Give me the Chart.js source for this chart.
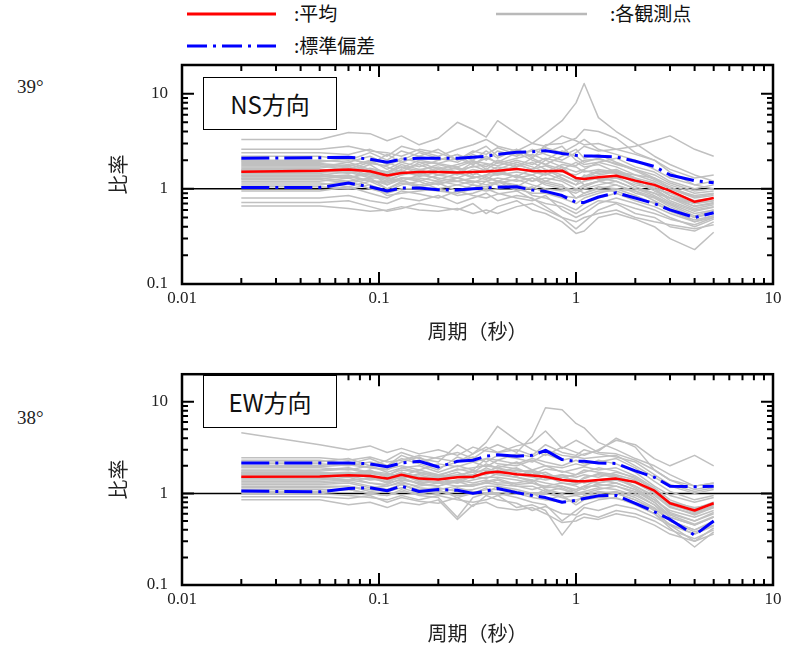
<!DOCTYPE html>
<html>
<head>
<meta charset="utf-8">
<script src="https://cdn.jsdelivr.net/npm/chart.js@4.4.0/dist/chart.umd.min.js"></script>
<style>
body { margin: 0; width: 792px; height: 648px; position: relative; background: #fff; overflow: hidden; font-family: "Noto Sans CJK JP", sans-serif; }
.wrap { position: absolute; left: 0; width: 792px; }
#wrapTop { top: 0; height: 350px; }
#wrapBottom { top: 350px; height: 298px; }
.box { position: absolute; left: 203px; width: 132px; height: 51px; border: 1.5px solid #000; background: #fff; font-size: 24px; line-height: 51px; text-align: center; color: #111; }
.lat { position: absolute; left: 17px; font-family: "Liberation Serif", "Times New Roman", "DejaVu Serif", serif; font-size: 19px; line-height: 19px; color: #222; }
.leg { position: absolute; font-size: 19px; line-height: 20px; color: #111; }
</style>
</head>
<body>
<svg width="792" height="60" style="position:absolute;left:0;top:0">
  <line x1="187" y1="14" x2="276" y2="14" stroke="#ff0000" stroke-width="3"/>
  <line x1="496" y1="14" x2="587" y2="14" stroke="rgb(185,185,185)" stroke-width="2.5"/>
  <line x1="187" y1="46" x2="276" y2="46" stroke="#0000ff" stroke-width="3" stroke-dasharray="20 6 3 6"/>
</svg>
<div class="leg" style="left:294px;top:3px">:平均</div>
<div class="leg" style="left:610px;top:3px">:各観測点</div>
<div class="leg" style="left:294px;top:35px">:標準偏差</div>

<div class="lat" style="top:77px">39°</div>
<div class="lat" style="top:408px">38°</div>

<div class="wrap" id="wrapTop"><canvas id="chartNS"></canvas></div>
<div class="wrap" id="wrapBottom"><canvas id="chartEW"></canvas></div>

<div class="box" style="top:77px">NS方向</div>
<div class="box" style="top:375px">EW方向</div>

<script>
// 周期（秒）
const periods = [0.02, 0.05, 0.07, 0.09, 0.11, 0.13, 0.16, 0.2, 0.25, 0.3, 0.35, 0.4, 0.5, 0.6, 0.7, 0.85, 1.0, 1.1, 1.3, 1.6, 2.0, 2.5, 3.0, 4.0, 5.0]
const xTicks = [0.01, 0.1, 1, 10]
const yTicks = [0.1, 1, 10]
const serif = '"Liberation Serif", "Times New Roman", "DejaVu Serif", serif'

// NS方向
const nsMean  = [1.51, 1.55, 1.60, 1.53, 1.38, 1.47, 1.50, 1.50, 1.48, 1.50, 1.52, 1.55, 1.62, 1.54, 1.53, 1.55, 1.30, 1.27, 1.32, 1.37, 1.22, 1.10, 0.95, 0.73, 0.80]
const nsUpper = [2.10, 2.12, 2.15, 2.05, 1.90, 2.05, 2.10, 2.10, 2.10, 2.15, 2.20, 2.30, 2.42, 2.45, 2.52, 2.35, 2.25, 2.22, 2.20, 2.16, 1.95, 1.72, 1.40, 1.22, 1.16]
const nsLower = [1.03, 1.03, 1.15, 1.05, 0.95, 1.02, 1.02, 0.98, 0.97, 1.00, 1.02, 1.04, 1.05, 0.97, 0.94, 0.85, 0.72, 0.72, 0.82, 0.91, 0.80, 0.70, 0.60, 0.50, 0.56]
const nsStations = [
    [3.3, 3.3, 3.9, 3.8, 3.2, 3.6, 2.9, 3.4, 5.0, 4.2, 3.5, 5.2, 3.8, 3.0, 2.8, 3.6, 3.2, 2.9, 3.0, 2.6, 2.3, 2.0, 1.6, 1.3, 1.4],
    [2.4, 2.4, 2.3, 2.6, 2.2, 2.8, 2.5, 2.2, 2.6, 2.9, 3.3, 2.8, 2.5, 3.0, 3.8, 5.2, 8.0, 12.8, 5.6, 4.0, 3.0, 2.2, 1.8, 1.4, 1.2],
    [2.0, 2.0, 1.9, 2.2, 1.8, 2.0, 2.4, 2.1, 1.9, 2.3, 2.0, 2.5, 2.2, 2.6, 2.3, 2.0, 2.4, 2.8, 2.5, 2.6, 2.8, 3.2, 3.6, 2.6, 2.2],
    [1.9, 1.9, 2.1, 1.8, 2.3, 1.9, 2.2, 2.6, 2.0, 2.4, 2.8, 2.2, 2.6, 2.1, 2.9, 3.0, 3.4, 4.2, 4.0, 3.4, 2.4, 2.0, 1.5, 1.1, 1.0],
    [1.8, 1.8, 1.7, 2.0, 1.6, 1.9, 1.7, 2.0, 2.3, 1.8, 2.1, 1.9, 2.4, 2.0, 1.8, 2.2, 2.6, 2.1, 2.3, 1.9, 1.6, 1.3, 1.1, 0.9, 0.95],
    [1.7, 1.7, 1.9, 1.6, 1.5, 1.8, 1.6, 1.7, 1.5, 1.9, 1.7, 2.0, 1.8, 1.6, 2.0, 1.7, 1.5, 1.6, 1.9, 1.7, 1.4, 1.2, 1.0, 0.85, 0.9],
    [1.6, 1.6, 1.5, 1.8, 1.4, 1.6, 1.8, 1.5, 1.7, 1.4, 1.6, 1.5, 1.7, 1.9, 1.6, 1.4, 1.2, 1.3, 1.5, 1.6, 1.3, 1.0, 0.9, 0.7, 0.75],
    [1.55, 1.55, 1.7, 1.5, 1.3, 1.5, 1.4, 1.6, 1.4, 1.6, 1.5, 1.7, 1.6, 1.5, 1.4, 1.6, 1.3, 1.1, 1.2, 1.4, 1.2, 1.1, 0.85, 0.65, 0.7],
    [1.5, 1.5, 1.6, 1.4, 1.2, 1.4, 1.6, 1.4, 1.5, 1.3, 1.4, 1.4, 1.5, 1.4, 1.6, 1.3, 1.1, 1.2, 1.3, 1.2, 1.0, 0.9, 0.8, 0.62, 0.68],
    [1.45, 1.45, 1.3, 1.5, 1.1, 1.3, 1.3, 1.2, 1.3, 1.5, 1.3, 1.2, 1.4, 1.2, 1.3, 1.2, 1.0, 1.1, 1.2, 1.3, 1.1, 1.0, 0.75, 0.6, 0.65],
    [1.4, 1.4, 1.5, 1.3, 1.3, 1.2, 1.4, 1.3, 1.2, 1.3, 1.4, 1.6, 1.3, 1.4, 1.2, 1.4, 1.2, 1.3, 1.4, 1.5, 1.2, 0.95, 0.8, 0.7, 0.8],
    [1.35, 1.35, 1.4, 1.2, 1.2, 1.3, 1.2, 1.4, 1.3, 1.2, 1.2, 1.3, 1.2, 1.3, 1.1, 1.0, 0.9, 1.0, 1.1, 1.2, 1.0, 0.85, 0.7, 0.55, 0.6],
    [1.3, 1.3, 1.2, 1.3, 1.0, 1.2, 1.1, 1.2, 1.1, 1.2, 1.1, 1.2, 1.1, 1.0, 1.2, 1.1, 0.8, 0.9, 1.0, 1.1, 0.9, 0.8, 0.65, 0.5, 0.55],
    [1.2, 1.2, 1.3, 1.1, 0.95, 1.1, 1.2, 1.0, 1.1, 1.0, 1.2, 1.1, 1.0, 0.9, 0.9, 0.8, 0.7, 0.8, 0.9, 1.0, 0.85, 0.7, 0.6, 0.45, 0.5],
    [1.1, 1.1, 1.2, 1.0, 0.9, 1.0, 1.0, 0.95, 0.9, 1.0, 0.95, 1.0, 1.1, 0.85, 0.8, 0.7, 0.6, 0.7, 0.8, 0.9, 0.75, 0.65, 0.55, 0.45, 0.52],
    [1.05, 1.05, 1.0, 1.1, 0.85, 0.9, 0.95, 1.0, 0.85, 0.9, 1.0, 0.9, 0.8, 0.75, 0.85, 0.6, 0.5, 0.55, 0.7, 0.8, 0.7, 0.6, 0.5, 0.4, 0.48],
    [0.8, 0.8, 0.85, 0.75, 0.7, 0.8, 0.75, 0.85, 0.7, 0.8, 0.9, 0.75, 0.85, 0.8, 0.65, 0.5, 0.38, 0.45, 0.6, 0.7, 0.55, 0.5, 0.4, 0.36, 0.45],
    [0.72, 0.72, 0.75, 0.65, 0.58, 0.62, 0.7, 0.65, 0.6, 0.7, 0.55, 0.65, 0.75, 0.6, 0.55, 0.45, 0.34, 0.36, 0.5, 0.55, 0.48, 0.4, 0.3, 0.23, 0.35],
    [0.66, 0.66, 0.62, 0.58, 0.6, 0.65, 0.6, 0.58, 0.62, 0.55, 0.6, 0.55, 0.65, 0.7, 0.6, 0.5, 0.45, 0.5, 0.55, 0.6, 0.5, 0.45, 0.42, 0.38, 0.42],
    [2.2, 2.2, 2.0, 2.4, 2.0, 2.5, 2.2, 2.0, 2.3, 2.0, 2.5, 2.1, 2.6, 2.2, 2.4, 2.8, 2.0, 1.8, 1.9, 2.1, 1.7, 1.5, 1.2, 1.0, 1.1],
    [1.25, 1.25, 1.15, 1.25, 1.1, 1.25, 1.05, 1.15, 1.2, 1.1, 1.05, 1.15, 1.25, 1.1, 1.0, 0.95, 1.0, 0.9, 1.05, 1.0, 0.95, 0.75, 0.62, 0.5, 0.58],
    [1.65, 1.65, 1.8, 1.55, 1.45, 1.7, 1.55, 1.8, 1.6, 1.7, 1.8, 1.6, 1.9, 1.7, 1.5, 1.8, 1.7, 1.5, 1.6, 1.5, 1.4, 1.3, 1.0, 0.8, 0.85],
    [1.75, 1.75, 1.6, 1.9, 1.7, 1.5, 1.9, 1.6, 1.8, 2.0, 1.6, 1.9, 1.7, 2.1, 1.8, 1.6, 1.9, 1.7, 1.8, 1.5, 1.3, 1.15, 0.95, 0.75, 0.8],
    [1.58, 1.58, 1.45, 1.65, 1.5, 1.7, 1.45, 1.65, 1.45, 1.75, 1.55, 1.4, 1.8, 1.6, 1.75, 1.5, 1.4, 1.55, 1.45, 1.55, 1.25, 1.05, 0.85, 0.7, 0.75],
    [1.48, 1.48, 1.55, 1.35, 1.4, 1.55, 1.35, 1.5, 1.65, 1.4, 1.6, 1.45, 1.35, 1.6, 1.4, 1.7, 1.25, 1.35, 1.55, 1.45, 1.15, 1.0, 0.8, 0.66, 0.72],
    [1.38, 1.38, 1.3, 1.45, 1.25, 1.4, 1.5, 1.25, 1.45, 1.35, 1.25, 1.5, 1.35, 1.2, 1.45, 1.25, 1.1, 1.4, 1.25, 1.35, 1.05, 0.9, 0.72, 0.58, 0.64],
    [1.28, 1.28, 1.35, 1.2, 1.15, 1.3, 1.25, 1.1, 1.3, 1.15, 1.35, 1.2, 1.05, 1.3, 1.15, 1.05, 0.95, 1.05, 1.2, 1.1, 0.95, 0.82, 0.68, 0.52, 0.6],
    [1.15, 1.15, 1.05, 1.2, 1.0, 1.15, 1.05, 1.15, 0.95, 1.1, 1.0, 1.2, 0.95, 1.05, 0.9, 0.85, 0.8, 0.85, 0.95, 0.95, 0.8, 0.72, 0.58, 0.47, 0.52],
    [1.95, 1.95, 2.05, 1.85, 1.75, 2.1, 1.9, 1.85, 2.1, 1.8, 2.2, 1.85, 2.1, 2.3, 2.0, 2.5, 2.2, 1.9, 2.1, 1.8, 1.6, 1.4, 1.15, 0.95, 1.0],
    [2.6, 2.6, 2.8, 2.5, 2.4, 2.2, 2.6, 2.4, 2.0, 2.5, 2.3, 2.7, 2.3, 2.5, 2.7, 2.4, 2.9, 3.3, 2.6, 2.3, 2.0, 1.6, 1.3, 1.1, 1.2],
    [0.95, 0.95, 1.05, 0.9, 0.8, 0.95, 0.88, 0.8, 0.95, 0.85, 0.8, 0.88, 0.95, 0.78, 0.7, 0.65, 0.55, 0.62, 0.75, 0.72, 0.62, 0.55, 0.48, 0.42, 0.5],
    [1.85, 1.85, 1.75, 1.95, 1.9, 1.65, 2.0, 1.85, 1.7, 1.95, 1.85, 1.75, 2.0, 1.8, 2.1, 1.9, 1.75, 2.0, 2.05, 1.85, 1.55, 1.25, 1.05, 0.82, 0.88]
]

// EW方向
const ewMean  = [1.52, 1.53, 1.58, 1.55, 1.45, 1.60, 1.45, 1.42, 1.50, 1.52, 1.68, 1.72, 1.62, 1.57, 1.52, 1.40, 1.36, 1.36, 1.40, 1.45, 1.33, 1.07, 0.78, 0.65, 0.78]
const ewUpper = [2.15, 2.15, 2.15, 2.10, 1.95, 2.15, 2.24, 1.94, 2.24, 2.30, 2.55, 2.64, 2.55, 2.60, 2.95, 2.34, 2.24, 2.24, 2.15, 2.12, 1.76, 1.50, 1.20, 1.18, 1.20]
const ewLower = [1.06, 1.04, 1.13, 1.15, 1.07, 1.20, 1.05, 1.10, 1.08, 1.00, 1.06, 1.13, 1.02, 0.95, 0.90, 0.80, 0.84, 0.88, 0.94, 0.95, 0.78, 0.63, 0.52, 0.35, 0.50]
const ewStations = [
    [4.6, 3.4, 3.0, 3.3, 2.8, 3.1, 2.7, 3.0, 2.6, 3.2, 2.9, 2.8, 3.3, 3.6, 4.8, 3.1, 3.8, 3.4, 2.8, 2.7, 2.3, 1.8, 1.4, 1.2, 1.3],
    [2.3, 2.3, 2.1, 2.4, 2.0, 2.6, 2.2, 2.5, 2.8, 2.4, 3.0, 3.4, 2.8, 4.2, 8.6, 8.2, 5.8, 5.2, 3.6, 3.0, 2.4, 2.0, 1.6, 1.2, 1.3],
    [2.2, 2.2, 2.4, 2.0, 2.3, 2.8, 2.4, 2.2, 3.4, 2.7, 3.6, 5.4, 3.8, 3.0, 2.6, 3.2, 2.8, 2.6, 3.0, 3.8, 3.4, 2.4, 2.0, 2.6, 2.0],
    [2.0, 2.0, 2.2, 1.9, 1.8, 2.2, 2.5, 1.9, 2.2, 2.5, 2.2, 2.6, 2.4, 2.2, 2.7, 2.3, 2.5, 2.7, 2.9, 4.0, 3.2, 1.8, 1.4, 1.1, 1.2],
    [1.9, 1.9, 1.8, 2.0, 1.7, 1.9, 2.0, 1.7, 2.0, 1.8, 2.4, 2.1, 2.0, 2.3, 2.0, 1.9, 2.1, 2.0, 2.3, 2.1, 1.7, 1.2, 0.95, 0.8, 0.9],
    [1.8, 1.8, 1.9, 1.7, 1.6, 1.8, 1.7, 1.6, 1.8, 1.9, 2.0, 1.9, 1.7, 1.8, 1.6, 1.5, 1.6, 1.8, 1.7, 1.6, 1.4, 1.0, 0.8, 0.7, 0.75],
    [1.7, 1.7, 1.6, 1.8, 1.5, 1.7, 1.5, 1.5, 1.6, 1.7, 1.8, 1.7, 1.9, 1.6, 1.7, 1.4, 1.3, 1.5, 1.6, 1.5, 1.3, 1.05, 0.75, 0.62, 0.72],
    [1.65, 1.65, 1.7, 1.6, 1.4, 1.5, 1.6, 1.4, 1.5, 1.6, 1.6, 1.8, 1.6, 1.5, 1.4, 1.5, 1.4, 1.3, 1.4, 1.5, 1.2, 0.95, 0.7, 0.6, 0.7],
    [1.6, 1.6, 1.5, 1.6, 1.3, 1.6, 1.4, 1.3, 1.4, 1.5, 1.7, 1.6, 1.5, 1.4, 1.3, 1.2, 1.1, 1.2, 1.4, 1.3, 1.1, 0.85, 0.65, 0.55, 0.65],
    [1.5, 1.5, 1.6, 1.5, 1.3, 1.4, 1.3, 1.35, 1.3, 1.4, 1.5, 1.5, 1.4, 1.3, 1.2, 1.3, 1.2, 1.1, 1.3, 1.4, 1.2, 0.9, 0.6, 0.5, 0.6],
    [1.45, 1.45, 1.4, 1.45, 1.35, 1.5, 1.25, 1.2, 1.4, 1.3, 1.4, 1.3, 1.3, 1.4, 1.1, 1.0, 1.1, 1.2, 1.2, 1.3, 1.1, 0.8, 0.55, 0.45, 0.55],
    [1.4, 1.4, 1.5, 1.3, 1.2, 1.3, 1.2, 1.3, 1.2, 1.2, 1.3, 1.4, 1.2, 1.1, 1.2, 1.1, 1.0, 1.0, 1.1, 1.2, 1.0, 0.75, 0.5, 0.4, 0.5],
    [1.3, 1.3, 1.35, 1.2, 1.1, 1.25, 1.1, 1.15, 1.05, 1.1, 1.2, 1.2, 1.1, 1.0, 1.0, 0.9, 0.95, 0.9, 1.0, 1.05, 0.9, 0.7, 0.5, 0.38, 0.45],
    [1.2, 1.2, 1.2, 1.1, 1.05, 1.15, 1.0, 1.05, 0.95, 1.0, 1.1, 1.1, 1.0, 0.9, 0.85, 0.8, 0.85, 0.9, 0.95, 1.0, 0.85, 0.65, 0.45, 0.3, 0.42],
    [1.1, 1.1, 1.1, 1.0, 0.95, 1.1, 0.95, 0.9, 0.55, 0.9, 1.0, 1.0, 0.9, 0.8, 0.75, 0.5, 0.65, 0.75, 0.85, 0.9, 0.75, 0.6, 0.42, 0.26, 0.38],
    [1.0, 1.0, 0.95, 0.9, 0.85, 0.95, 0.85, 0.95, 0.85, 0.8, 0.85, 0.95, 0.7, 0.75, 0.65, 0.35, 0.55, 0.6, 0.55, 0.65, 0.6, 0.5, 0.4, 0.32, 0.4],
    [0.85, 0.85, 0.75, 0.8, 0.7, 0.8, 0.75, 0.85, 0.52, 0.75, 0.8, 0.7, 0.66, 0.7, 0.6, 0.48, 0.5, 0.55, 0.52, 0.6, 0.55, 0.45, 0.36, 0.3, 0.36],
    [2.1, 2.1, 2.0, 2.2, 2.0, 2.4, 2.1, 1.8, 2.5, 2.2, 2.4, 2.3, 2.7, 2.5, 3.0, 2.6, 2.5, 2.4, 2.5, 2.6, 2.0, 1.5, 1.2, 1.0, 1.1],
    [1.55, 1.55, 1.65, 1.5, 1.45, 1.7, 1.5, 1.45, 1.55, 1.6, 1.9, 1.7, 1.8, 1.7, 1.5, 1.6, 1.5, 1.6, 1.5, 1.7, 1.5, 1.1, 0.8, 0.65, 0.8],
    [1.25, 1.25, 1.3, 1.15, 1.2, 1.35, 1.15, 1.1, 1.2, 1.25, 1.3, 1.25, 1.2, 1.2, 1.05, 1.15, 1.0, 1.05, 1.15, 1.1, 0.95, 0.75, 0.55, 0.45, 0.55],
    [1.75, 1.75, 1.85, 1.65, 1.55, 1.9, 1.7, 1.55, 1.85, 1.7, 2.1, 1.9, 2.2, 1.8, 2.0, 1.7, 1.85, 1.95, 1.8, 1.9, 1.55, 1.15, 0.85, 0.68, 0.8],
    [1.62, 1.62, 1.5, 1.7, 1.55, 1.45, 1.65, 1.5, 1.7, 1.45, 1.75, 1.9, 1.55, 1.75, 1.45, 1.6, 1.3, 1.45, 1.65, 1.55, 1.3, 1.0, 0.72, 0.58, 0.7],
    [1.48, 1.48, 1.55, 1.4, 1.45, 1.6, 1.35, 1.45, 1.3, 1.55, 1.45, 1.65, 1.5, 1.35, 1.55, 1.3, 1.25, 1.35, 1.3, 1.45, 1.15, 0.85, 0.62, 0.5, 0.62],
    [1.35, 1.35, 1.4, 1.3, 1.25, 1.45, 1.3, 1.2, 1.35, 1.2, 1.35, 1.45, 1.25, 1.3, 1.15, 1.2, 1.05, 1.15, 1.25, 1.2, 1.05, 0.8, 0.58, 0.46, 0.56],
    [1.15, 1.15, 1.2, 1.05, 1.1, 1.25, 1.05, 1.0, 1.15, 1.05, 1.0, 1.2, 1.05, 0.95, 1.1, 0.9, 0.8, 0.95, 1.05, 1.0, 0.85, 0.68, 0.5, 0.4, 0.48],
    [1.95, 1.95, 2.05, 1.9, 1.85, 2.0, 1.8, 2.1, 1.95, 2.2, 1.95, 2.3, 2.1, 2.4, 2.2, 2.0, 2.3, 2.1, 2.2, 2.4, 1.9, 1.35, 1.05, 0.85, 0.95],
    [2.45, 2.45, 2.3, 2.5, 2.2, 2.3, 2.6, 2.4, 2.2, 2.7, 3.2, 2.8, 3.0, 2.6, 3.4, 2.8, 2.6, 3.0, 2.7, 2.5, 2.2, 1.6, 1.25, 1.05, 1.15],
    [0.92, 0.92, 0.88, 0.95, 0.8, 0.9, 0.82, 0.78, 0.9, 0.72, 0.95, 0.85, 0.78, 0.65, 0.72, 0.6, 0.58, 0.7, 0.65, 0.75, 0.68, 0.55, 0.45, 0.36, 0.44],
    [1.68, 1.68, 1.6, 1.75, 1.65, 1.55, 1.8, 1.6, 1.5, 1.8, 1.65, 2.0, 1.85, 1.6, 1.85, 1.75, 1.6, 1.7, 1.9, 1.75, 1.45, 1.1, 0.78, 0.62, 0.74],
    [1.05, 1.05, 1.1, 1.0, 0.95, 1.05, 0.98, 1.1, 0.9, 1.0, 1.15, 0.95, 1.05, 1.0, 0.85, 0.95, 0.75, 0.85, 0.9, 0.88, 0.78, 0.6, 0.46, 0.36, 0.45]
]

// frame, inward ticks and the line at 1
const frame = {
    id: 'frame',
    beforeDatasetsDraw(chart) {
        let ctx = chart.ctx
        let a = chart.chartArea
        let y1 = chart.scales.y.getPixelForValue(1)
        ctx.save()
        ctx.strokeStyle = '#000'
        ctx.lineWidth = 1.5
        ctx.beginPath()
        ctx.moveTo(a.left, y1)
        ctx.lineTo(a.right, y1)
        ctx.stroke()
        ctx.restore()
    },
    afterDatasetsDraw(chart) {
        let ctx = chart.ctx
        let a = chart.chartArea
        let xs = chart.scales.x
        let ys = chart.scales.y
        ctx.save()
        ctx.strokeStyle = '#000'
        ctx.lineWidth = 2
        ctx.beginPath()
        for (let i = 0; i < xTicks.length; i++) {
            for (let m = 1; m < 10; m++) {
                let v = xTicks[i] * m
                if (v > xs.max * 1.0001) continue
                let len = m === 1 ? 12 : 6
                let px = xs.getPixelForValue(v)
                ctx.moveTo(px, a.bottom)
                ctx.lineTo(px, a.bottom - len)
                ctx.moveTo(px, a.top)
                ctx.lineTo(px, a.top + len)
            }
        }
        for (let i = 0; i < yTicks.length; i++) {
            for (let m = 1; m < 10; m++) {
                let v = yTicks[i] * m
                if (v >= ys.max) continue
                let len = m === 1 ? 12 : 6
                let py = ys.getPixelForValue(v)
                ctx.moveTo(a.left, py)
                ctx.lineTo(a.left + len, py)
                ctx.moveTo(a.right, py)
                ctx.lineTo(a.right - len, py)
            }
        }
        ctx.stroke()
        ctx.lineWidth = 2.5
        ctx.strokeRect(a.left, a.top, a.right - a.left, a.bottom - a.top)
        ctx.restore()
    }
}

function toPoints(values) {
    let pts = []
    for (let i = 0; i < periods.length; i++) {
        pts.push({ x: periods[i], y: values[i] })
    }
    return pts
}

function makeChart(id, stations, mean, upper, lower, padTop, axisHeight, titlePad) {
    let datasets = []
    datasets.push({ data: toPoints(mean), borderColor: '#ff0000', borderWidth: 2.5, order: 0 })
    datasets.push({ data: toPoints(upper), borderColor: '#0000ff', borderWidth: 3, borderDash: [28, 6, 3, 6], order: 1 })
    datasets.push({ data: toPoints(lower), borderColor: '#0000ff', borderWidth: 3, borderDash: [28, 6, 3, 6], order: 1 })
    for (let i = 0; i < stations.length; i++) {
        datasets.push({ data: toPoints(stations[i]), borderColor: 'rgb(192,192,192)', borderWidth: 1.5, order: 2 })
    }

    new Chart(document.getElementById(id), {
        type: 'line',
        data: { datasets: datasets },
        options: {
            responsive: true,
            maintainAspectRatio: false,
            animation: false,
            layout: { padding: { top: padTop, right: 19, left: 0, bottom: 0 } },
            elements: {
                point: { radius: 0 },
                line: { tension: 0, fill: false, borderJoinStyle: 'round' }
            },
            plugins: { legend: { display: false }, tooltip: { enabled: false } },
            scales: {
                x: {
                    type: 'logarithmic',
                    min: 0.01,
                    max: 10,
                    grid: { display: false, drawTicks: false },
                    border: { display: false },
                    afterBuildTicks: (s) => { s.ticks = xTicks.map((v) => ({ value: v })) },
                    afterFit: (s) => { s.height = axisHeight },
                    ticks: {
                        color: '#222',
                        font: { family: serif, size: 17 },
                        padding: 4,
                        maxRotation: 0,
                        autoSkip: false,
                        callback: (v) => String(v)
                    },
                    title: {
                        display: true,
                        text: '周期（秒）',
                        color: '#222',
                        font: { family: 'Noto Sans CJK JP', size: 20 },
                        padding: { top: 0, bottom: titlePad }
                    }
                },
                y: {
                    type: 'logarithmic',
                    min: 0.1,
                    max: 20,
                    grid: { display: false, drawTicks: false },
                    border: { display: false },
                    afterBuildTicks: (s) => { s.ticks = yTicks.map((v) => ({ value: v })) },
                    afterFit: (s) => { s.width = 182 },
                    ticks: {
                        color: '#222',
                        font: { family: serif, size: 17 },
                        padding: 14,
                        autoSkip: false,
                        callback: (v) => String(v)
                    },
                    title: {
                        display: true,
                        text: '比率',
                        color: '#222',
                        font: { family: 'Noto Sans CJK JP', size: 20 },
                        padding: { top: 106, bottom: 0 }
                    }
                }
            }
        },
        plugins: [frame]
    })
}

makeChart('chartNS', nsStations, nsMean, nsUpper, nsLower, 65, 66, 7)
makeChart('chartEW', ewStations, ewMean, ewUpper, ewLower, 16, 63, 3)
</script>
</body>
</html>
